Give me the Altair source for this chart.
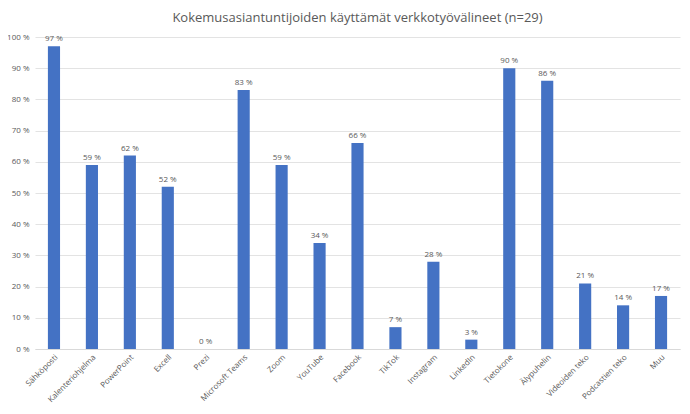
import altair as alt
import pandas as pd

categories = ['Sähköposti', 'Kalenteriohjelma', 'PowerPoint', 'Excell', 'Prezi',
              'Microsoft Teams', 'Zoom', 'YouTube', 'Facebook', 'TikTok', 'Instagram',
              'LinkedIn', 'Tietokone', 'Älypuhelin', 'Videoiden teko', 'Podcastien teko', 'Muu']
values = [97, 59, 62, 52, 0, 83, 59, 34, 66, 7, 28, 3, 90, 86, 21, 14, 17]

df = pd.DataFrame({'cat': categories, 'val': values})
df['lbl'] = df['val'].astype(str) + ' %'

font = 'Open Sans'
grey = '#595959'

base = alt.Chart(df).encode(
    x=alt.X('cat:N', sort=categories, title=None,
            scale=alt.Scale(paddingInner=0.68, paddingOuter=0.34),
            axis=alt.Axis(labelAngle=-45, labelAlign='right', labelBaseline='top',
                          labelFont=font, labelFontSize=8, labelColor=grey,
                          ticks=False, domainColor='#d9d9d9', labelPadding=4)),
    y=alt.Y('val:Q', title=None,
            scale=alt.Scale(domain=[0, 100], nice=False),
            axis=alt.Axis(values=list(range(0, 101, 10)), labelExpr="datum.value + ' %'",
                          labelFont=font, labelFontSize=8, labelColor=grey, labelOverlap=False,
                          domain=False, ticks=False, gridColor='#e3e3e3', labelPadding=6))
)

bars = base.mark_bar(color='#4472C4')
text = base.mark_text(dy=-7, font=font, fontSize=8, color=grey).encode(text='lbl:N')

chart = (bars + text).properties(
    width=645, height=312,
    title=alt.Title('Kokemusasiantuntijoiden käyttämät verkkotyövälineet (n=29)',
                    font=font, fontSize=13, fontWeight='normal', color=grey, offset=8),
    autosize=alt.AutoSizeParams(type='none'),
    padding={'left': 27, 'top': 29, 'right': 2, 'bottom': 57}
).configure_view(stroke=None)

chart.save("out.html", embed_options={"renderer": "svg", "actions": False})
